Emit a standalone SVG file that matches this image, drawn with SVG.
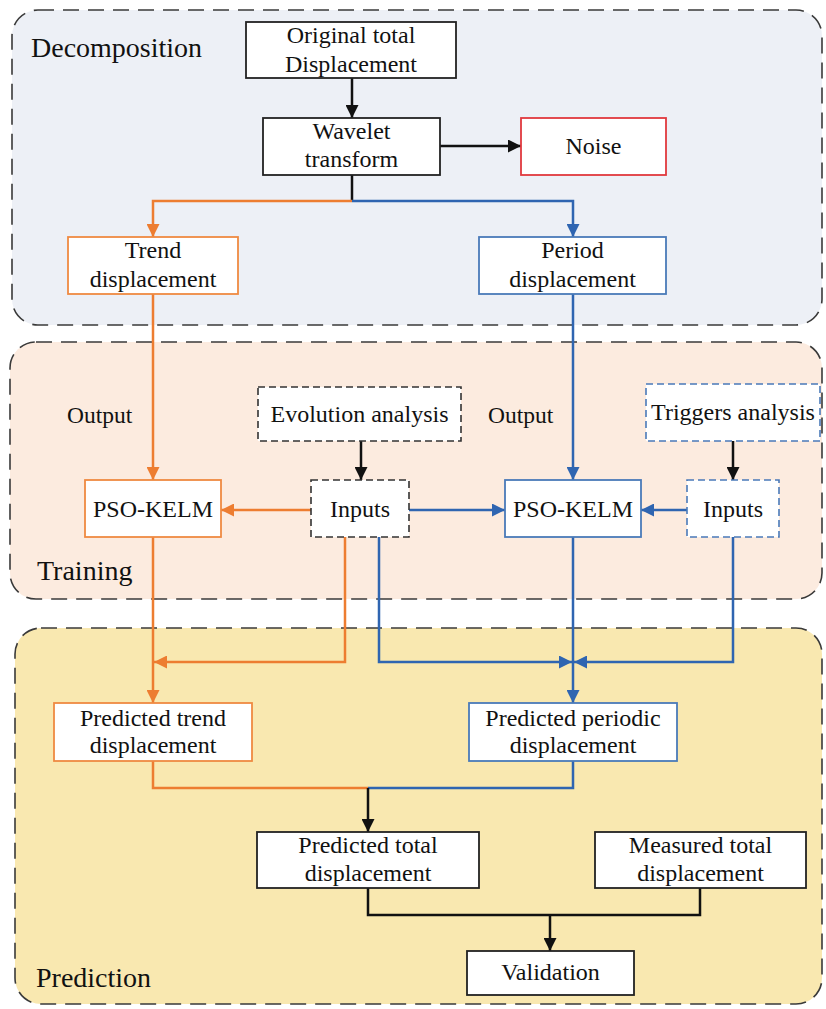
<svg xmlns="http://www.w3.org/2000/svg" width="826" height="1009" viewBox="0 0 826 1009">
<defs>
<style>
.panel{stroke:#3a3a3a;stroke-width:1.6;stroke-dasharray:16 9}
.ptitle{font-family:"Liberation Serif","Times New Roman",serif;font-size:28px;fill:#111}
.t{font-family:"Liberation Serif","Times New Roman",serif;font-size:24px;fill:#111;text-anchor:middle}
.lbl{font-family:"Liberation Serif","Times New Roman",serif;font-size:23.5px;fill:#111}
.bk{fill:#fff;stroke:#222;stroke-width:1.8}
.or{fill:#fff;stroke:#ef8a42;stroke-width:1.8}
.bl{fill:#fff;stroke:#4a7ab9;stroke-width:1.8}
.rd{fill:#fff;stroke:#e0393e;stroke-width:1.8}
.dk{fill:#fff;stroke:#333;stroke-width:1.6;stroke-dasharray:7 4}
.db{fill:#fff;stroke:#4a7ab9;stroke-width:1.6;stroke-dasharray:7 4}
.c{fill:none;stroke-width:2.5}
.cb{stroke:#111}
.co{stroke:#ed7d31}
.cu{stroke:#2f65b1}
</style>
<marker id="ab" viewBox="0 0 12 12" refX="12" refY="6" markerWidth="13" markerHeight="13" markerUnits="userSpaceOnUse" orient="auto"><path d="M0,0 L12,6 L0,12 z" fill="#111"/></marker>
<marker id="ao" viewBox="0 0 12 12" refX="12" refY="6" markerWidth="13" markerHeight="13" markerUnits="userSpaceOnUse" orient="auto"><path d="M0,0 L12,6 L0,12 z" fill="#ed7d31"/></marker>
<marker id="au" viewBox="0 0 12 12" refX="12" refY="6" markerWidth="13" markerHeight="13" markerUnits="userSpaceOnUse" orient="auto"><path d="M0,0 L12,6 L0,12 z" fill="#2f65b1"/></marker>
</defs>
<rect width="826" height="1009" fill="#fff"/>
<g id="panel-decomposition">
<rect class="panel" x="12" y="10" width="810" height="315" rx="26" fill="#edf0f6"/>
<text class="ptitle" x="31" y="57">Decomposition</text>
</g>
<g id="panel-training">
<rect class="panel" x="10" y="342" width="812" height="257" rx="26" fill="#fcebdf"/>
<text class="ptitle" x="37" y="580">Training</text>
</g>
<g id="panel-prediction">
<rect class="panel" x="15" y="628" width="807" height="376" rx="26" fill="#f9e8b0"/>
<text class="ptitle" x="36" y="987">Prediction</text>
</g>
<g id="connectors">
<path class="c cb" d="M352,78 V118" marker-end="url(#ab)"/>
<path class="c cb" d="M440,146 H521" marker-end="url(#ab)"/>
<path class="c cb" d="M352,175 V201"/>
<path class="c co" d="M352,201 H153 V237" marker-end="url(#ao)"/>
<path class="c cu" d="M352,201 H573 V237" marker-end="url(#au)"/>
<path class="c co" d="M153,294 V480" marker-end="url(#ao)"/>
<path class="c cu" d="M573,294 V480" marker-end="url(#au)"/>
<path class="c cb" d="M361,441 V480" marker-end="url(#ab)"/>
<path class="c co" d="M311,510 H221" marker-end="url(#ao)"/>
<path class="c cu" d="M409,510 H505" marker-end="url(#au)"/>
<path class="c cb" d="M733,441 V480" marker-end="url(#ab)"/>
<path class="c cu" d="M687,510 H641" marker-end="url(#au)"/>
<path class="c co" d="M153,537 V703" marker-end="url(#ao)"/>
<path class="c co" d="M345,537 V662 H154" marker-end="url(#ao)"/>
<path class="c cu" d="M379,537 V662 H572" marker-end="url(#au)"/>
<path class="c cu" d="M573,537 V703" marker-end="url(#au)"/>
<path class="c cu" d="M733,537 V662 H574" marker-end="url(#au)"/>
<path class="c co" d="M153,761 V788 H368"/>
<path class="c cu" d="M573,761 V788 H368"/>
<path class="c cb" d="M368,788 V832" marker-end="url(#ab)"/>
<path class="c cb" d="M368,888 V915 H700 V888"/>
<path class="c cb" d="M550,915 V951" marker-end="url(#ab)"/>
</g>
<g id="node-original">
<rect class="bk" x="246" y="22" width="210" height="56"/>
<text class="t" x="351" y="43">Original total</text>
<text class="t" x="351" y="72">Displacement</text>
</g>
<g id="node-wavelet">
<rect class="bk" x="263" y="118" width="177" height="57"/>
<text class="t" x="351.5" y="139">Wavelet</text>
<text class="t" x="351.5" y="167">transform</text>
</g>
<g id="node-noise">
<rect class="rd" x="521" y="118" width="145" height="57"/>
<text class="t" x="593.5" y="154">Noise</text>
</g>
<g id="node-trend">
<rect class="or" x="68" y="237" width="170" height="57"/>
<text class="t" x="153" y="258">Trend</text>
<text class="t" x="153" y="287">displacement</text>
</g>
<g id="node-period">
<rect class="bl" x="479" y="237" width="187" height="57"/>
<text class="t" x="572.5" y="258">Period</text>
<text class="t" x="572.5" y="287">displacement</text>
</g>
<g id="label-output-left"><text class="lbl" x="67" y="423">Output</text></g>
<g id="label-output-right"><text class="lbl" x="488" y="423">Output</text></g>
<g id="node-evolution">
<rect class="dk" x="258" y="387" width="203" height="54"/>
<text class="t" x="359.5" y="422">Evolution analysis</text>
</g>
<g id="node-triggers">
<rect class="db" x="646" y="384" width="174" height="57"/>
<text class="t" x="733" y="420">Triggers analysis</text>
</g>
<g id="node-pso-left">
<rect class="or" x="85" y="480" width="136" height="57"/>
<text class="t" x="153" y="517">PSO-KELM</text>
</g>
<g id="node-inputs-left">
<rect class="dk" x="311" y="480" width="98" height="57"/>
<text class="t" x="360" y="517">Inputs</text>
</g>
<g id="node-pso-right">
<rect class="bl" x="505" y="480" width="136" height="57"/>
<text class="t" x="573" y="517">PSO-KELM</text>
</g>
<g id="node-inputs-right">
<rect class="db" x="687" y="480" width="92" height="57"/>
<text class="t" x="733" y="517">Inputs</text>
</g>
<g id="node-pred-trend">
<rect class="or" x="54" y="703" width="198" height="58"/>
<text class="t" x="153" y="726">Predicted trend</text>
<text class="t" x="153" y="753">displacement</text>
</g>
<g id="node-pred-periodic">
<rect class="bl" x="469" y="703" width="208" height="58"/>
<text class="t" x="573" y="726">Predicted periodic</text>
<text class="t" x="573" y="753">displacement</text>
</g>
<g id="node-pred-total">
<rect class="bk" x="257" y="832" width="222" height="56"/>
<text class="t" x="368" y="853">Predicted total</text>
<text class="t" x="368" y="881">displacement</text>
</g>
<g id="node-measured">
<rect class="bk" x="595" y="832" width="211" height="56"/>
<text class="t" x="700.5" y="853">Measured total</text>
<text class="t" x="700.5" y="881">displacement</text>
</g>
<g id="node-validation">
<rect class="bk" x="467" y="951" width="167" height="44"/>
<text class="t" x="550.5" y="980">Validation</text>
</g>
</svg>
